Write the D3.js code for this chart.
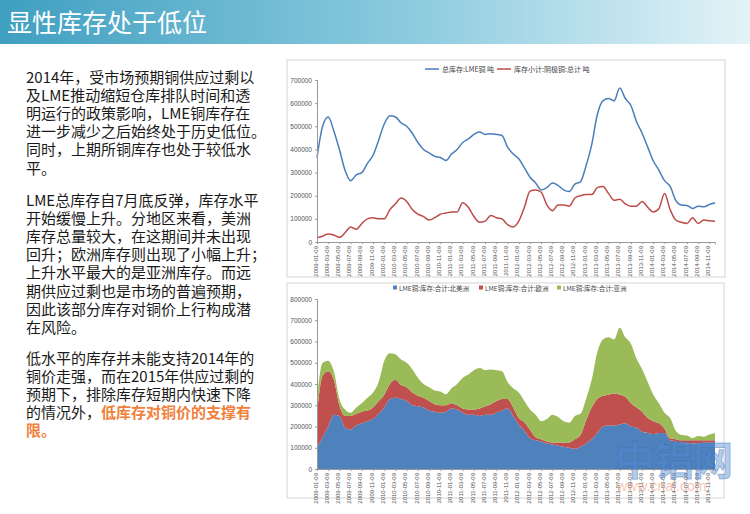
<!DOCTYPE html>
<html><head><meta charset="utf-8">
<script src="https://cdn.jsdelivr.net/npm/d3@7"></script>
<style>
body{margin:0;background:#fff;font-family:"Noto Sans CJK SC","Noto Sans",sans-serif;}
</style></head>
<body><svg id="slide" width="750" height="514"></svg>
<script>
// month ticks, every second month 2009-01 .. 2014-11
const tickLabels = [];
for (let y = 2009; y <= 2014; y++) for (let m = 1; m <= 11; m += 2)
    tickLabels.push(y + "-" + String(m).padStart(2, "0") + "-09");

// monthly readings, 2009-01 .. 2014-12 (tonnes)
const lmeTotal = [365,500,540,480,400,310,265,290,300,340,375,440,
    510,545,540,515,500,470,430,400,385,370,365,352,
    380,400,430,445,465,475,465,468,465,460,410,380,
    360,320,280,255,225,235,255,245,225,218,250,260,
    330,420,550,610,620,610,665,620,590,520,470,410,
    350,310,265,240,180,160,158,145,155,152,162,170].map(v => v * 1000);
const shfeTotal = [18,25,35,30,20,40,65,55,80,100,105,100,
    100,140,165,190,175,140,120,110,95,105,120,125,
    130,130,170,150,110,85,90,115,105,100,75,65,
    90,150,220,225,215,160,135,160,160,155,190,200,
    205,205,235,240,210,180,185,165,155,155,175,150,
    130,145,210,140,95,85,80,105,80,95,92,90].map(v => v * 1000);

const northAmerica = [100,150,200,255,250,195,185,205,215,225,235,260,
    290,330,335,330,320,300,295,290,275,270,265,270,
    285,280,265,255,255,250,255,255,265,275,285,250,
    210,180,145,135,130,120,115,110,105,100,95,105,
    120,140,170,200,205,205,210,215,200,195,175,170,
    165,170,170,135,130,125,120,120,120,125,125,125];
const europe = [160,290,260,165,50,55,65,55,55,50,55,60,
    60,70,85,65,65,60,50,45,45,35,35,30,
    25,20,20,25,25,35,40,50,55,55,45,40,
    30,40,40,15,10,10,10,15,20,25,45,55,
    110,150,160,145,145,150,140,125,110,95,95,70,
    60,45,20,10,10,10,15,15,15,10,10,10];
const asia = [70,60,50,40,30,30,15,30,40,60,70,90,
    160,145,120,120,115,110,85,65,65,65,65,52,
    70,100,145,165,185,190,170,163,145,130,80,90,
    120,100,95,105,85,105,130,120,100,93,110,100,
    100,130,220,265,270,255,315,280,280,230,200,170,
    125,95,75,95,40,25,23,10,20,17,27,35];

const svg = d3.select("#slide");

// title bar
const grad = svg.append("defs").append("linearGradient").attr("id", "bar");
grad.append("stop").attr("offset", "0%").attr("stop-color", "#3f9fc0");
grad.append("stop").attr("offset", "55%").attr("stop-color", "#8ccbdf");
grad.append("stop").attr("offset", "100%").attr("stop-color", "#e3f3f8");
svg.append("rect").attr("width", 750).attr("height", 44).attr("fill", "url(#bar)");
svg.append("text").attr("x", 7).attr("y", 32).attr("fill", "#fff")
    .attr("font-size", 25).text("显性库存处于低位");

// left text
const paras = [
    [77, ["2014年，受市场预期铜供应过剩以", "及LME推动缩短仓库排队时间和透", "明运行的政策影响，LME铜库存在",
          "进一步减少之后始终处于历史低位。", "同时，上期所铜库存也处于较低水", "平。"]],
    [200, ["LME总库存自7月底反弹，库存水平", "开始缓慢上升。分地区来看，美洲", "库存总量较大，在这期间并未出现",
           "回升；欧洲库存则出现了小幅上升；", "上升水平最大的是亚洲库存。而远", "期供应过剩也是市场的普遍预期，",
           "因此该部分库存对铜价上行构成潜", "在风险。"]],
    [358, ["低水平的库存并未能支持2014年的", "铜价走强，而在2015年供应过剩的", "预期下，排除库存短期内快速下降"]]
];
paras.forEach(([y0, lines]) => lines.forEach((s, i) => {
    svg.append("text").attr("x", 26).attr("y", y0 + i * 18.2 + 5.5)
        .attr("font-size", 15).attr("fill", "#1a1a1a").text(s);
}));
const t4 = svg.append("text").attr("x", 26).attr("y", 358 + 3 * 18.2 + 5.5).attr("font-size", 15).attr("fill", "#1a1a1a");
t4.append("tspan").text("的情况外，");
t4.append("tspan").attr("fill", "#f0803a").attr("font-weight", "bold").text("低库存对铜价的支撑有");
svg.append("text").attr("x", 26).attr("y", 358 + 4 * 18.2 + 5.5).attr("font-size", 15)
    .attr("fill", "#f0803a").attr("font-weight", "bold").text("限。");

const months = d3.range(lmeTotal.length);
const x = d3.scaleLinear().domain([0, months.length - 1]).range([317, 715]);

function xAxis(g, y0) {
    g.attr("transform", `translate(0,${y0})`)
        .call(d3.axisBottom(x).tickValues(d3.range(0, 72, 2)).tickFormat((d, i) => tickLabels[i]).tickSize(2))
        .call(g => g.selectAll(".domain,line").attr("stroke", "#999"))
        .selectAll("text").attr("transform", "rotate(-90)").attr("text-anchor", "end")
        .attr("x", -4).attr("y", -2).attr("dy", "0.35em").attr("font-size", 6).attr("fill", "#555");
}
function yAxis(g, y) {
    g.attr("transform", "translate(317,0)")
        .call(d3.axisLeft(y).ticks(8).tickFormat(d3.format("d")).tickSize(2))
        .call(g => g.selectAll(".domain,line").attr("stroke", "#999"))
        .selectAll("text").attr("font-size", 6.5).attr("fill", "#555");
}

// top chart
svg.append("rect").attr("x", 287).attr("y", 60).attr("width", 438).attr("height", 217)
    .attr("fill", "#fff").attr("stroke", "#d4d4d4");
const y1 = d3.scaleLinear().domain([0, 700000]).range([242, 80]);
const line = d3.line().x((d, i) => x(i)).y(d => y1(d)).curve(d3.curveMonotoneX);
svg.append("path").datum(lmeTotal).attr("d", line).attr("fill", "none").attr("stroke", "#4a7ebb").attr("stroke-width", 1.5);
svg.append("path").datum(shfeTotal).attr("d", line).attr("fill", "none").attr("stroke", "#be4b48").attr("stroke-width", 1.5);
svg.append("g").call(yAxis, y1);
svg.append("g").call(xAxis, 242);
[["总库存:LME铜 吨", "#4a7ebb", 425], ["库存小计:阴极铜:总计 吨", "#be4b48", 497]].forEach(([t, c, lx]) => {
    svg.append("line").attr("x1", lx).attr("x2", lx + 14).attr("y1", 69).attr("y2", 69).attr("stroke", c).attr("stroke-width", 1.5);
    svg.append("text").attr("x", lx + 17).attr("y", 71.5).attr("font-size", 7).attr("fill", "#444").text(t);
});

// bottom chart
svg.append("rect").attr("x", 287).attr("y", 283).attr("width", 437).attr("height", 215)
    .attr("fill", "#fff").attr("stroke", "#d4d4d4");
const y2 = d3.scaleLinear().domain([0, 800000]).range([469, 299]);
const keys = ["na", "eu", "as"];
const table = months.map(i => ({ na: northAmerica[i] * 1000, eu: europe[i] * 1000, as: asia[i] * 1000 }));
const stack = d3.stack().keys(keys)(table);
const colors = { na: "#4f81bd", eu: "#c0504d", as: "#9bbb59" };
const area = d3.area().x((d, i) => x(i)).y0(d => y2(d[0])).y1(d => y2(d[1])).curve(d3.curveMonotoneX);
svg.append("g").selectAll("path").data(stack).join("path")
    .attr("d", area).attr("fill", d => colors[d.key]);
svg.append("g").call(yAxis, y2);
svg.append("g").call(xAxis, 469);
[["LME铜:库存:合计:北美洲", "na", 393], ["LME铜:库存:合计:欧洲", "eu", 479], ["LME铜:库存:合计:亚洲", "as", 557]].forEach(([t, k, lx]) => {
    svg.append("rect").attr("x", lx).attr("y", 285.5).attr("width", 4).attr("height", 4).attr("fill", colors[k]);
    svg.append("text").attr("x", lx + 6).attr("y", 290.5).attr("font-size", 6.5).attr("fill", "#444").text(t);
});

// watermark
svg.append("text").attr("x", 615).attr("y", 475).attr("font-size", 40).attr("font-weight", "bold")
    .attr("fill", "rgba(80,140,210,0.45)").attr("stroke", "rgba(60,110,180,0.4)").attr("letter-spacing", -1).text("中铝网");
svg.append("text").attr("x", 617).attr("y", 491).attr("font-size", 14)
    .attr("fill", "rgba(240,150,120,0.55)").attr("font-family", "Arial,sans-serif").text("www.cnal.com");
</script></body></html>
